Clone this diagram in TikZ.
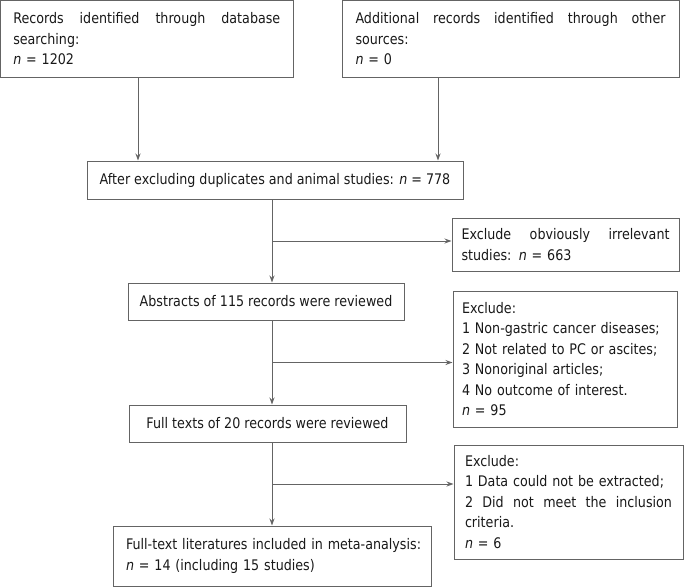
\documentclass[tikz,border=0pt]{standalone}
\usepackage{fontspec}
\setmainfont{DejaVu Sans}[FakeStretch=0.87]
\usetikzlibrary{arrows.meta,calc}
\definecolor{linegray}{RGB}{100,100,100}
\definecolor{ink}{RGB}{25,25,25}
\newcommand{\jl}[2]{\leavevmode\hbox to #1{#2}}
\begin{document}
\begin{tikzpicture}[x=1pt,y=-1pt,
  box/.style={draw=linegray, line width=1pt, inner sep=0pt, text=ink,
              font=\fontsize{14.6}{20.5}\selectfont},
  arr/.style={draw=linegray, line width=1pt, -{Stealth[length=7pt,width=5pt]}}]
\useasboundingbox (0,0) rectangle (685,587);
\node[box, minimum width=292.5pt, minimum height=76.5pt, text width=267pt, align=left] (b1) at (146.75,38.75)
  {\jl{267pt}{Records\hfill identified\hfill through\hfill database}\\ searching:\\ \textit{n} = 1202};
\node[box, minimum width=337pt, minimum height=76.5pt, text width=310pt, align=left] (b2) at (510.5,38.75)
  {\jl{310pt}{Additional\hfill records\hfill identified\hfill through\hfill other}\\ sources:\\ \textit{n} = 0};
\node[box, minimum width=376pt, minimum height=38pt, align=center] (b3) at (275,180)
  {After excluding duplicates and animal studies: \textit{n} = 778};
\node[box, minimum width=227pt, minimum height=53pt, text width=208pt, align=left] (b5) at (565.5,244.5)
  {\jl{208pt}{Exclude\hfill obviously\hfill irrelevant}\\ studies: \textit{n} = 663};
\node[box, minimum width=276pt, minimum height=37pt, align=center] (b4) at (266,301.5)
  {Abstracts of 115 records were reviewed};
\node[box, minimum width=224pt, minimum height=136pt, text width=206pt, align=left] (b7) at (565,359)
  {Exclude:\\ 1 Non-gastric cancer diseases;\\ 2 Not related to PC or ascites;\\ 3 Nonoriginal articles;\\ 4 No outcome of interest.\\ \textit{n} = 95};
\node[box, minimum width=277pt, minimum height=37pt, align=center] (b6) at (267.5,423.5)
  {Full texts of 20 records were reviewed};
\node[box, minimum width=229pt, minimum height=114pt, text width=207pt, align=left] (b9) at (568.5,502)
  {Exclude:\\ 1 Data could not be extracted;\\ \jl{207pt}{2\hfill Did\hfill not\hfill meet\hfill the\hfill inclusion}\\ criteria.\\ \textit{n} = 6};
\node[box, minimum width=318pt, minimum height=60pt, text width=292pt, align=left] (b8) at (272,556)
  {\mbox{Full-text literatures included in meta-analysis:}\\ \textit{n} = 14 (including 15 studies)};
\coordinate (sp) at (272,0);
\draw[arr] ([xshift=-8.75pt]b1.south) -- ([xshift=-8.75pt]b1.south |- b3.north);
\draw[arr] ([xshift=-72.5pt]b2.south) -- ([xshift=-72.5pt]b2.south |- b3.north);
\draw[arr] (b3.south -| sp) -- (b4.north -| sp);
\coordinate (m1) at ($(b3.south -| sp)!.5!(b4.north -| sp)$);
\draw[arr] (m1) -- (m1 -| b5.west);
\draw[arr] (b4.south -| sp) -- (b6.north -| sp);
\coordinate (m2) at ($(b4.south -| sp)!.5!(b6.north -| sp)$);
\draw[arr] (m2) -- (m2 -| b7.west);
\draw[arr] (b6.south -| sp) -- (b8.north -| sp);
\coordinate (m3) at ($(b6.south -| sp)!.5!(b8.north -| sp)$);
\draw[arr] (m3) -- (m3 -| b9.west);
\end{tikzpicture}
\end{document}
